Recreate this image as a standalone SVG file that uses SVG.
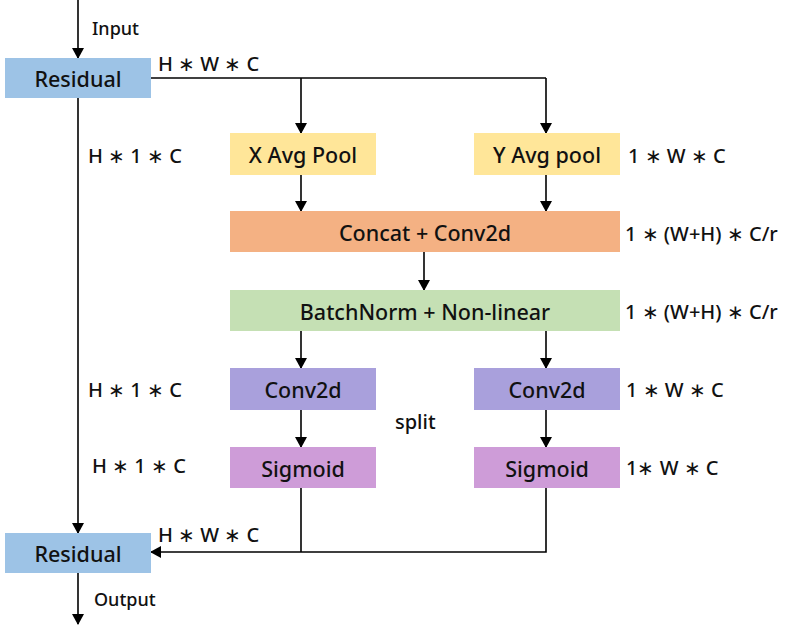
<svg xmlns="http://www.w3.org/2000/svg" width="788" height="627" viewBox="0 0 788 627">
<defs>
<marker id="ah" markerWidth="12" markerHeight="12" refX="10" refY="6" orient="auto" markerUnits="userSpaceOnUse">
<path d="M0,0 L11,6 L0,12 z" fill="#000"/>
</marker>
<style>
.t{font-family:"Noto Sans","Open Sans",sans-serif;font-size:20px;font-weight:500;fill:#111;}
.c{text-anchor:middle;dominant-baseline:central;font-size:21.5px;}
.s{font-size:18px;}
.ln{stroke:#000;stroke-width:1.6;fill:none;}
.ar{stroke:#000;stroke-width:1.6;fill:none;marker-end:url(#ah);}
.res{fill:#9DC3E6;}
.pool{fill:#FFE699;}
.cat{fill:#F4B183;}
.bn{fill:#C5E0B4;}
.cv{fill:#A9A0DC;}
.sg{fill:#CE9CD8;}
</style>
</defs>
<rect width="788" height="627" fill="#fff"/>
<g id="connectors">
<line class="ar" x1="78" y1="0" x2="78" y2="58"/>
<polyline class="ln" points="151,78 546,78"/>
<line class="ar" x1="301" y1="78" x2="301" y2="133"/>
<line class="ar" x1="546" y1="78" x2="546" y2="133"/>
<line class="ar" x1="301" y1="175" x2="301" y2="211"/>
<line class="ar" x1="546" y1="175" x2="546" y2="211"/>
<line class="ar" x1="424" y1="252" x2="424" y2="290"/>
<line class="ar" x1="301" y1="331" x2="301" y2="368"/>
<line class="ar" x1="546" y1="331" x2="546" y2="368"/>
<line class="ar" x1="301" y1="410" x2="301" y2="447"/>
<line class="ar" x1="546" y1="410" x2="546" y2="447"/>
<line class="ar" x1="78" y1="98" x2="78" y2="533"/>
<polyline class="ln" points="301,488 301,552"/>
<polyline class="ar" points="546,488 546,552 151,552"/>
<line class="ar" x1="78" y1="573" x2="78" y2="624"/>
</g>
<g id="residual_in"><rect class="res" x="5" y="58" width="146" height="40"/><text class="t c" x="78" y="78">Residual</text></g>
<g id="x_avg_pool"><rect class="pool" x="230" y="133" width="146" height="42"/><text class="t c" x="303" y="154">X Avg Pool</text></g>
<g id="y_avg_pool"><rect class="pool" x="474" y="133" width="146" height="42"/><text class="t c" x="547" y="154">Y Avg pool</text></g>
<g id="concat"><rect class="cat" x="230" y="211" width="390" height="41"/><text class="t c" x="425" y="232">Concat + Conv2d</text></g>
<g id="batchnorm"><rect class="bn" x="230" y="290" width="390" height="41"/><text class="t c" x="425" y="311">BatchNorm + Non-linear</text></g>
<g id="conv_left"><rect class="cv" x="230" y="368" width="146" height="42"/><text class="t c" x="303" y="389">Conv2d</text></g>
<g id="conv_right"><rect class="cv" x="474" y="368" width="146" height="42"/><text class="t c" x="547" y="389">Conv2d</text></g>
<g id="sigmoid_left"><rect class="sg" x="230" y="447" width="146" height="41"/><text class="t c" x="303" y="468">Sigmoid</text></g>
<g id="sigmoid_right"><rect class="sg" x="474" y="447" width="146" height="41"/><text class="t c" x="547" y="468">Sigmoid</text></g>
<g id="residual_out"><rect class="res" x="5" y="533" width="146" height="40"/><text class="t c" x="78" y="553">Residual</text></g>
<g id="labels">
<text class="t s" x="92" y="35">Input</text>
<text class="t s" x="94" y="606">Output</text>
<text class="t" x="158" y="71">H ∗ W ∗ C</text>
<text class="t" x="88" y="163">H ∗ 1 ∗ C</text>
<text class="t" x="628" y="163">1 ∗ W ∗ C</text>
<text class="t" x="625" y="241">1 ∗ (W+H) ∗ C/r</text>
<text class="t" x="625" y="319">1 ∗ (W+H) ∗ C/r</text>
<text class="t" x="88" y="397">H ∗ 1 ∗ C</text>
<text class="t" x="626" y="397">1 ∗ W ∗ C</text>
<text class="t" x="395" y="429">split</text>
<text class="t" x="92" y="473">H ∗ 1 ∗ C</text>
<text class="t" x="626" y="475">1∗ W ∗ C</text>
<text class="t" x="158" y="542">H ∗ W ∗ C</text>
</g>
</svg>
